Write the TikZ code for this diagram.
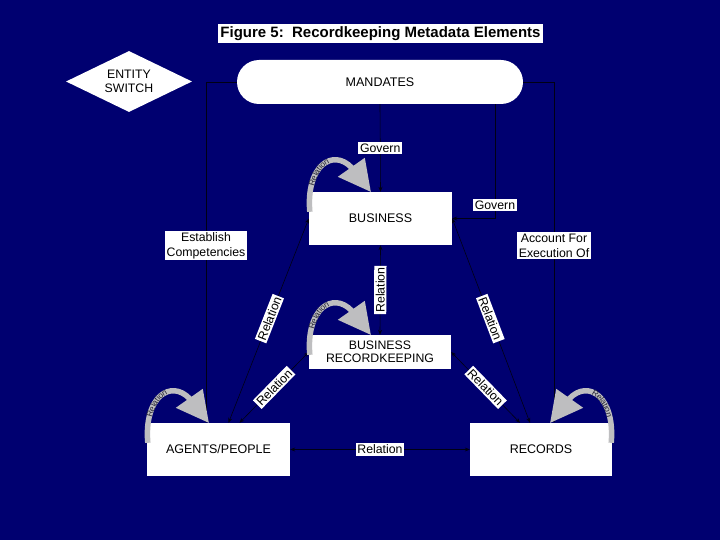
\documentclass[tikz,border=0pt]{standalone}
\usepackage{fontspec}
\setmainfont{Liberation Sans}
\usetikzlibrary{arrows.meta,shapes.geometric,decorations.text}
\definecolor{navybg}{RGB}{0,0,112}
\definecolor{loopgray}{RGB}{190,190,192}
\definecolor{looptext}{RGB}{40,40,55}
\definecolor{connline}{RGB}{0,0,20}
\newcommand\loopfont{\fontsize{8.5}{8.5}\selectfont}
\tikzset{
  box/.style={fill=white, text=black, inner sep=0pt, align=center, font=\fontsize{12.5}{13}\selectfont},
  lbl/.style={fill=white, text=black, inner sep=1.6pt, align=center, font=\fontsize{12.3}{14.5}\selectfont},
  conn/.style={draw=connline, line width=0.6pt, -{Stealth[length=5pt,width=4pt]}},
  rel/.style={conn, {Stealth[length=5pt,width=4pt]}-{Stealth[length=5pt,width=4pt]}},
  loopband/.style={draw=loopgray, line width=5.5pt},
  looptxt/.style={decorate, decoration={text along path, text={|\loopfont|Relation}, text align=center, text color=looptext, raise=-3pt}},
  selfloop/.pic={
    \draw[loopband] (1,20) .. controls (-3,-26) and (24,-44) .. (43,-24);
    \fill[loopgray] (29,-15) -- (56,-34) -- (62,0) -- cycle;
    \path[looptxt] (1,20) .. controls (-3,-26) and (24,-44) .. (43,-24);
  },
  selfloopR/.pic={
    \draw[loopband] (-1,20) .. controls (3,-26) and (-24,-44) .. (-43,-24);
    \fill[loopgray] (-29,-15) -- (-56,-34) -- (-62,0) -- cycle;
    \path[looptxt] (-43,-24) .. controls (-24,-44) and (3,-26) .. (-1,20);
  },
}
\begin{document}
\begin{tikzpicture}[x=1pt,y=-1pt]
\fill[navybg] (0,0) rectangle (720,540);
\useasboundingbox (0,0) rectangle (720,540);

% title
\node[fill=white, text=black, font=\bfseries\fontsize{15}{17}\selectfont, minimum width=325pt, minimum height=19pt, inner sep=0pt] (title) at (380.5,33.5) {Figure 5:\ \ Recordkeeping Metadata Elements};

% entity switch
\node[diamond, aspect=2, fill=white, text=black, minimum width=126pt, minimum height=61pt, inner sep=0pt, align=center, font=\fontsize{12.3}{13.5}\selectfont] (switch) at (129,81.5) {ENTITY\\SWITCH};

% main boxes
\node[box, rounded corners=22pt, minimum width=286pt, minimum height=44pt] (mand) at (380,82) {MANDATES};
\node[box, minimum width=143pt, minimum height=53pt] (bus) at (380.5,218.5) {BUSINESS};
\node[box, minimum width=142pt, minimum height=34pt, font=\fontsize{12.3}{12.5}\selectfont] (brk) at (380,352) {BUSINESS\\RECORDKEEPING};
\node[box, minimum width=143pt, minimum height=53pt] (agents) at (218.5,449.5) {AGENTS/PEOPLE};
\node[box, minimum width=142pt, minimum height=53pt] (records) at (541,449.5) {RECORDS};

% connectors
\draw[conn] (mand.south) -- (bus.north) node[lbl, midway] {Govern};
\draw[conn] ([xshift=115pt]mand.south) |- (bus.east) node[lbl, pos=0.44] {Govern};
\draw[conn] (mand.west) -| ([xshift=-12.5pt]agents.north) node[lbl, pos=0.74] {Establish\\Competencies};
\draw[conn] (mand.east) -| ([xshift=13pt]records.north) node[lbl, pos=0.74] {Account For\\Execution Of};
\draw[rel] (brk.north) -- (bus.south) node[lbl, midway, sloped] {Relation};
\draw[rel] (bus.west) -- ([xshift=10pt]agents.north) node[lbl, pos=0.49, sloped] {Relation};
\draw[rel] (bus.east) -- ([xshift=-11pt]records.north) node[lbl, pos=0.49, sloped] {Relation};
\draw[rel] (brk.west) -- ([xshift=21pt]agents.north) node[lbl, pos=0.5, sloped] {Relation};
\draw[rel] (brk.east) -- ([xshift=-21pt]records.north) node[lbl, pos=0.5, sloped] {Relation};
\draw[rel] (agents.east) -- (records.west) node[lbl, midway] {Relation};

% self loops
\pic at (bus.north west) {selfloop};
\pic at (brk.north west) {selfloop};
\pic at (agents.north west) {selfloop};
\pic at (records.north east) {selfloopR};
\end{tikzpicture}
\end{document}
